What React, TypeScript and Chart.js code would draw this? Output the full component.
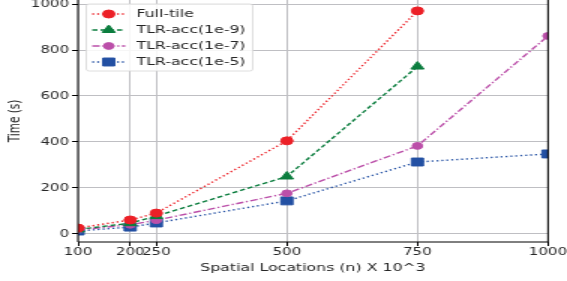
import React, { useEffect, useRef } from "react";
import { Chart, registerables } from "chart.js";

Chart.register(...registerables);

const xValues = [100, 200, 250, 500, 750, 1000];
const xTickValues = [100, 200, 250, 500, 750, 1000];
const yTickValues = [0, 200, 400, 600, 800, 1000];

const fullTile = [26, 61, 91, 405, 970, null];
const tlr1e9 = [20, 47, 78, 250, 728, null];
const tlr1e7 = [18, 40, 60, 177, 383, 861];
const tlr1e5 = [13, 30, 48, 144, 313, 348];

const seriesNames = ["Full-tile", "TLR-acc(1e-9)", "TLR-acc(1e-7)", "TLR-acc(1e-5)"];

const FONT = "'DejaVu Sans', sans-serif";
// the reference figure is stretched horizontally; draw narrow and stretch with CSS
const STRETCH = 1.5;
const W = 567;
const H = 281;
const BW = Math.round(W / STRETCH);

function drawMarker(ctx: CanvasRenderingContext2D, style: string, radius: number, x: number, y: number) {
  ctx.beginPath();
  if (style === "circle") {
    ctx.arc(x, y, radius, 0, Math.PI * 2);
  } else if (style === "triangle") {
    ctx.moveTo(x, y - radius);
    ctx.lineTo(x + radius * Math.sin(Math.PI / 3), y + radius * 0.5);
    ctx.lineTo(x - radius * Math.sin(Math.PI / 3), y + radius * 0.5);
  } else {
    const s = Math.SQRT1_2 * radius;
    ctx.rect(x - s, y - s, 2 * s, 2 * s);
  }
  ctx.closePath();
  ctx.fill();
  ctx.stroke();
}

const legendPlugin = {
  id: "insideLegend",
  afterDraw(chart: any) {
    const ctx = chart.ctx;
    const ca = chart.chartArea;
    const x0 = ca.left + 5.5;
    const y0 = ca.top + 4;
    const w = 111;
    const h = 67;
    ctx.save();
    ctx.beginPath();
    const r = 2;
    ctx.moveTo(x0 + r, y0);
    ctx.arcTo(x0 + w, y0, x0 + w, y0 + h, r);
    ctx.arcTo(x0 + w, y0 + h, x0, y0 + h, r);
    ctx.arcTo(x0, y0 + h, x0, y0, r);
    ctx.arcTo(x0, y0, x0 + w, y0, r);
    ctx.closePath();
    ctx.fillStyle = "rgba(255,255,255,0.85)";
    ctx.fill();
    ctx.strokeStyle = "#d6d6d6";
    ctx.lineWidth = 0.8;
    ctx.stroke();
    chart.data.datasets.forEach((ds: any, i: number) => {
      const cy = y0 + 10 + i * 16;
      ctx.beginPath();
      ctx.setLineDash(ds.borderDash || []);
      ctx.strokeStyle = ds.borderColor;
      ctx.lineWidth = ds.borderWidth;
      ctx.moveTo(x0 + 4, cy);
      ctx.lineTo(x0 + 26, cy);
      ctx.stroke();
      ctx.setLineDash([]);
      ctx.fillStyle = ds.pointBackgroundColor;
      ctx.strokeStyle = ds.pointBorderColor;
      ctx.lineWidth = 1;
      drawMarker(ctx, ds.pointStyle, ds.pointRadius, x0 + 15, cy);
      ctx.fillStyle = "#262626";
      ctx.font = "10.5px " + FONT;
      ctx.textBaseline = "middle";
      ctx.textAlign = "left";
      ctx.fillText(seriesNames[i], x0 + 33.5, cy + 0.5);
    });
    ctx.restore();
  },
};

const spinePlugin = {
  id: "spines",
  afterDraw(chart: any) {
    const ctx = chart.ctx;
    const ca = chart.chartArea;
    ctx.save();
    ctx.strokeStyle = "#000";
    ctx.lineWidth = 1;
    ctx.beginPath();
    ctx.moveTo(ca.left, ca.top);
    ctx.lineTo(ca.left, ca.bottom);
    ctx.lineTo(ca.right, ca.bottom);
    ctx.lineTo(ca.right, ca.top);
    ctx.stroke();
    ctx.restore();
  },
};

export default function App() {
  const ref = useRef<HTMLCanvasElement>(null);
  useEffect(() => {
    document.body.style.margin = "0";
    const mk = (
      label: string,
      data: (number | null)[],
      color: string,
      dash: number[],
      pointStyle: string,
      radius: number
    ) => ({
      label,
      data: xValues.map((x, i) => ({ x, y: data[i] })),
      borderColor: color,
      backgroundColor: color,
      pointBackgroundColor: color,
      pointBorderColor: color,
      borderWidth: 1.4,
      borderDash: dash,
      pointStyle,
      pointRadius: radius,
      pointHoverRadius: radius,
      pointBorderWidth: 1,
      tension: 0,
      spanGaps: false,
      clip: 0,
    });
    const chart = new Chart(ref.current!, {
      type: "line",
      data: {
        datasets: [
          mk(seriesNames[0], fullTile, "#ec2027", [1.3, 2], "circle", 4),
          mk(seriesNames[1], tlr1e9, "#0b7d3e", [3.5, 2], "triangle", 5),
          mk(seriesNames[2], tlr1e7, "#bb4fa9", [5, 1.8, 1.3, 1.8], "circle", 3.4),
          mk(seriesNames[3], tlr1e5, "#2350a3", [1.3, 2], "rect", 5.6),
        ] as any,
      },
      options: {
        animation: false,
        responsive: false,
        events: [],
        layout: { autoPadding: false, padding: { top: 0, right: BW - 548 / STRETCH, left: 0, bottom: 0 } },
        plugins: {
          legend: { display: false },
          tooltip: { enabled: false },
        },
        scales: {
          x: {
            type: "linear",
            min: 100,
            max: 1000,
            afterBuildTicks: (scale: any) => {
              scale.ticks = xTickValues.map((v) => ({ value: v }));
            },
            afterFit: (scale: any) => {
              scale.height = H - 242;
              scale.paddingLeft = 0;
              scale.paddingRight = 0;
            },
            grid: {
              color: "#bfbfc3",
              lineWidth: 1,
              drawTicks: true,
              tickLength: 4,
              tickColor: "#000",
            },
            border: { display: false },
            ticks: {
              autoSkip: false,
              maxRotation: 0,
              color: "#262626",
              font: { family: FONT, size: 10 },
              padding: 0,
              callback: (v: any) => String(v),
            },
            title: {
              display: true,
              text: "Spatial Locations (n) X 10^3",
              color: "#262626",
              font: { family: FONT, size: 10.5 },
              padding: { top: 0, bottom: 6.5 },
            },
          },
          y: {
            type: "linear",
            min: -34.8,
            max: 1017.4,
            afterBuildTicks: (scale: any) => {
              scale.ticks = yTickValues.map((v) => ({ value: v }));
            },
            afterFit: (scale: any) => {
              scale.width = 78 / STRETCH;
              scale.paddingTop = 0;
              scale.paddingBottom = 0;
            },
            grid: {
              color: "#bfbfc3",
              lineWidth: 1,
              drawTicks: true,
              tickLength: 4,
              tickColor: "#000",
            },
            border: { display: false },
            ticks: {
              color: "#262626",
              font: { family: FONT, size: 10 },
              padding: 2,
              callback: (v: any) => String(v),
            },
            title: {
              display: true,
              text: "Time (s)",
              color: "#262626",
              font: { family: FONT, size: 10.5 },
              padding: { top: 3.7, bottom: 0 },
            },
          },
        },
      } as any,
      plugins: [spinePlugin, legendPlugin],
    });
    return () => chart.destroy();
  }, []);
  return (
    <canvas
      ref={ref}
      width={BW}
      height={H}
      style={{ display: "block", width: W + "px", height: H + "px" }}
    />
  );
}
